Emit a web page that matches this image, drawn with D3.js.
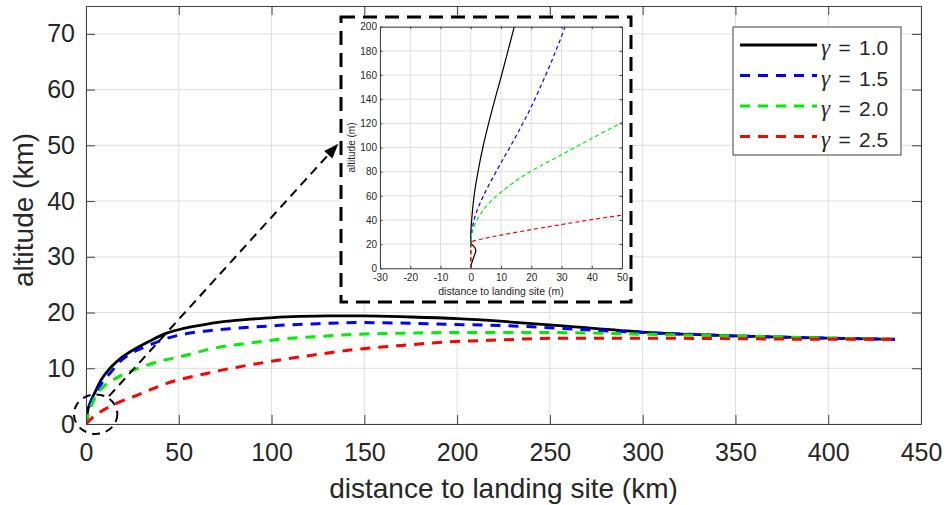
<!DOCTYPE html>
<html><head><meta charset="utf-8">
<script src="https://cdn.jsdelivr.net/npm/d3@7"></script>
<style>body{margin:0;background:#fff}svg{display:block}text{font-family:"Liberation Sans",Arial,sans-serif}</style>
</head><body><svg id="c" width="947" height="505"></svg>
<script>
// ---------- data ----------
const gammaLabels = ["1.0", "1.5", "2.0", "2.5"];
const seriesColors = ["#000000", "#0000ff", "#00ee00", "#ff0000"];
const seriesDash = [null, "10,8", "10,8", "10,8"];

// main chart (km)
const dist10 = [0, 0.8, 2.5, 5, 8, 12.9, 18, 25.5, 35, 43.5, 52, 61.4, 75, 88.4, 101, 115, 130, 149, 175, 200, 225, 257, 300, 350, 400, 436];
const alt10  = [0, 2.2, 4.0, 5.8, 7.8, 10.0, 11.6, 13.3, 15.0, 16.3, 17.1, 17.7, 18.4, 18.8, 19.1, 19.3, 19.4, 19.4, 19.2, 18.9, 18.4, 17.6, 16.5, 15.8, 15.4, 15.2];
const dist15 = [0, 0.8, 2.5, 5.7, 9, 12.9, 18.3, 25, 34.5, 43, 52.4, 65, 77.6, 90, 104.5, 125, 146, 170, 194, 230, 254, 275, 300, 325, 350, 400, 436];
const alt15  = [0, 1.9, 3.8, 5.8, 7.6, 9.1, 11.2, 12.8, 14.2, 15.3, 16.1, 16.7, 17.1, 17.4, 17.7, 18.0, 18.2, 18.1, 17.9, 17.6, 17.2, 16.8, 16.4, 16.1, 15.8, 15.4, 15.2];
const dist20 = [0, 1, 3.1, 6, 10, 14, 20, 29, 40, 52.4, 65, 77.6, 90, 104.5, 125, 146, 170, 194, 225, 254, 300, 350, 400, 436];
const alt20  = [0, 1.5, 3.5, 5.4, 6.9, 7.8, 8.9, 10.1, 11.3, 12.2, 13.3, 14.1, 14.6, 15.2, 15.7, 16.1, 16.3, 16.4, 16.4, 16.4, 16.1, 15.8, 15.4, 15.2];
const dist25 = [0, 3, 9.3, 17, 25.5, 35, 43.5, 52, 61.4, 75, 88.4, 104.5, 125, 146, 170, 194, 225, 254, 300, 350, 400, 436];
const alt25  = [0, 1.0, 2.5, 3.8, 4.9, 6.2, 7.3, 8.1, 8.8, 9.8, 10.6, 11.5, 12.5, 13.4, 14.1, 14.7, 15.1, 15.4, 15.4, 15.3, 15.2, 15.2];

// inset (m)
const insetX10 = [0, 0.3, 1.1, 1.65, 1.4, 0.3, 0, 0.3, 1.1, 2.4, 4.0, 5.9, 8.0, 10.2, 12.3, 14.4];
const insetY10 = [0, 4, 10, 14, 17, 20, 23, 40, 60, 80, 100, 120, 140, 160, 180, 200];
const insetX15 = [0, 0, 0.3, 1.1, 2.4, 4.2, 6.2, 8.4, 10.6, 12.9, 15.1, 17.2, 19.3, 21.2, 23.0, 24.8, 26.5, 28.1, 29.7, 31.2];
const insetY15 = [0, 20, 30, 40, 50, 60, 70, 80, 90, 100, 110, 120, 130, 140, 150, 160, 170, 180, 190, 200];
const insetX20 = [0, 0, 0.5, 1.5, 3, 5, 7.5, 10, 15, 20, 30, 40, 50];
const insetY20 = [0, 22, 30, 37, 44, 51, 57.5, 63, 72.5, 80.5, 94, 107.5, 120.8];
const insetX25 = [0, 0, 5, 10, 20, 30, 40, 50];
const insetY25 = [0, 22, 25, 27.5, 32, 36.2, 40.3, 44];

// ticks
const xTickValues = [0, 50, 100, 150, 200, 250, 300, 350, 400, 450];
const yTickValues = [0, 10, 20, 30, 40, 50, 60, 70];
const insetXTickValues = [-30, -20, -10, 0, 10, 20, 30, 40, 50];
const insetYTickValues = [0, 20, 40, 60, 80, 100, 120, 140, 160, 180, 200];

// annotation anchors (data units, km)
const zoomCircle = [5.2, 1.76, 11.7, 3.55]; // cx, cy, rx, ry
const arrowFrom = [12.4, 5.0];
const arrowTo = [136, 50.3];

// ---------- drawing ----------
const svg = d3.select("#c");
svg.append("rect").attr("width", 947).attr("height", 505).attr("fill", "#fff");
const AX = "#404040", GRID = "#dedede", TXT = "#262626";

const M = {l: 86, r: 921, t: 6, b: 424};
const x = d3.scaleLinear().domain([0, 450]).range([M.l, M.r]);
const y = d3.scaleLinear().domain([0, 75]).range([M.b, M.t]);

// grid
const grid = svg.append("g");
grid.selectAll("line.gx").data(xTickValues).join("line").attr("class", "gx")
  .attr("x1", d => x(d)).attr("x2", d => x(d)).attr("y1", M.t).attr("y2", M.b)
  .attr("stroke", GRID).attr("stroke-width", 1);
grid.selectAll("line.gy").data(yTickValues).join("line").attr("class", "gy")
  .attr("x1", M.l).attr("x2", M.r).attr("y1", d => y(d)).attr("y2", d => y(d))
  .attr("stroke", GRID).attr("stroke-width", 1);

// curves
svg.append("clipPath").attr("id", "mainclip").append("rect")
  .attr("x", M.l).attr("y", M.t).attr("width", M.r - M.l).attr("height", M.b - M.t);
const mainSeries = [[dist10, alt10], [dist15, alt15], [dist20, alt20], [dist25, alt25]];
const lineMain = d3.line().x(d => x(d[0])).y(d => y(d[1])).curve(d3.curveMonotoneX);
const curves = svg.append("g").attr("clip-path", "url(#mainclip)");
mainSeries.forEach((s, i) => {
  const pts = s[0].map((d, k) => [d, s[1][k]]);
  curves.append("path").attr("d", lineMain(pts)).attr("fill", "none")
    .attr("stroke", seriesColors[i]).attr("stroke-width", i === 0 ? 2.8 : 3)
    .attr("stroke-dasharray", seriesDash[i]);
});

// axes
function styleAxis(g, fs) {
  g.select(".domain").attr("stroke", AX).attr("stroke-width", 1);
  g.selectAll(".tick line").attr("stroke", AX).attr("stroke-width", 1);
  g.selectAll(".tick text").attr("fill", TXT).attr("font-size", fs)
    .attr("font-family", '"Liberation Sans",Arial,sans-serif');
}
const TS = 9;
svg.append("g").attr("transform", `translate(0,${M.b})`)
  .call(d3.axisBottom(x).tickValues(xTickValues).tickFormat(d => String(d)).tickSizeInner(-TS).tickSizeOuter(0).tickPadding(19))
  .call(g => styleAxis(g, 25));
svg.append("g").attr("transform", `translate(${M.l},0)`)
  .call(d3.axisLeft(y).tickValues(yTickValues).tickFormat(d => String(d)).tickSizeInner(-TS).tickSizeOuter(0).tickPadding(11))
  .call(g => styleAxis(g, 25));
svg.append("g").attr("transform", `translate(0,${M.t})`)
  .call(d3.axisTop(x).tickValues(xTickValues).tickFormat("").tickSizeInner(-TS).tickSizeOuter(0))
  .call(g => styleAxis(g, 25));
svg.append("g").attr("transform", `translate(${M.r},0)`)
  .call(d3.axisRight(y).tickValues(yTickValues).tickFormat("").tickSizeInner(-TS).tickSizeOuter(0))
  .call(g => styleAxis(g, 25));

// axis labels
svg.append("text").attr("x", (M.l + M.r) / 2).attr("y", 498).attr("text-anchor", "middle")
  .attr("font-size", 28).attr("fill", TXT).text("distance to landing site (km)");
svg.append("text").attr("transform", "translate(33,210) rotate(-90)").attr("text-anchor", "middle")
  .attr("font-size", 28).attr("fill", TXT).text("altitude (km)");

// annotation: dashed circle and arrow
svg.append("ellipse")
  .attr("cx", x(zoomCircle[0])).attr("cy", y(zoomCircle[1]))
  .attr("rx", x(zoomCircle[2]) - x(0)).attr("ry", y(0) - y(zoomCircle[3]))
  .attr("fill", "none").attr("stroke", "#000").attr("stroke-width", 2).attr("stroke-dasharray", "8,6");
{
  const x0 = x(arrowFrom[0]), y0 = y(arrowFrom[1]), x1 = x(arrowTo[0]), y1 = y(arrowTo[1]);
  const ang = Math.atan2(y1 - y0, x1 - x0), L = 15, W = 5.5;
  const bx = x1 - L * Math.cos(ang), by = y1 - L * Math.sin(ang);
  svg.append("line").attr("x1", x0).attr("y1", y0).attr("x2", bx).attr("y2", by)
    .attr("stroke", "#000").attr("stroke-width", 2).attr("stroke-dasharray", "9,6");
  const px = -Math.sin(ang), py = Math.cos(ang);
  svg.append("path").attr("d", `M${x1},${y1}L${bx + W * px},${by + W * py}L${bx - W * px},${by - W * py}Z`)
    .attr("fill", "#000");
}

// ---------- inset ----------
svg.append("rect").attr("x", 341).attr("y", 17).attr("width", 290).attr("height", 285)
  .attr("fill", "#fff").attr("stroke", "#000").attr("stroke-width", 3).attr("stroke-dasharray", "14,8");
const I = {l: 380, r: 622, t: 26.7, b: 268.3};
const ix = d3.scaleLinear().domain([-30, 50]).range([I.l, I.r]);
const iy = d3.scaleLinear().domain([0, 200]).range([I.b, I.t]);
const ig = svg.append("g");
ig.selectAll("line.gx").data(insetXTickValues).join("line").attr("class", "gx")
  .attr("x1", d => ix(d)).attr("x2", d => ix(d)).attr("y1", I.t).attr("y2", I.b).attr("stroke", GRID);
ig.selectAll("line.gy").data(insetYTickValues).join("line").attr("class", "gy")
  .attr("x1", I.l).attr("x2", I.r).attr("y1", d => iy(d)).attr("y2", d => iy(d)).attr("stroke", GRID);
svg.append("clipPath").attr("id", "insetclip").append("rect")
  .attr("x", I.l).attr("y", I.t).attr("width", I.r - I.l).attr("height", I.b - I.t);
const insetSeries = [[insetX10, insetY10], [insetX15, insetY15], [insetX20, insetY20], [insetX25, insetY25]];
const lineInsetCurve = d3.line().x(d => ix(d[0])).y(d => iy(d[1])).curve(d3.curveCatmullRom.alpha(0.5));
const lineInsetStraight = d3.line().x(d => ix(d[0])).y(d => iy(d[1]));
const ic = svg.append("g").attr("clip-path", "url(#insetclip)");
insetSeries.forEach((s, i) => {
  const pts = s[0].map((d, k) => [d, s[1][k]]);
  // black trajectory is one smooth curve; the others rise vertically at x = 0 before departing
  const dStr = i === 0 ? lineInsetCurve(pts)
    : lineInsetStraight(pts.slice(0, 2)) + lineInsetCurve(pts.slice(1)).replace(/^M[^C]*/, "");
  ic.append("path").attr("d", dStr).attr("fill", "none")
    .attr("stroke", seriesColors[i]).attr("stroke-width", 1.2)
    .attr("stroke-dasharray", i === 0 ? null : "4,3");
});
const its = 2.5;
svg.append("g").attr("transform", `translate(0,${I.b})`)
  .call(d3.axisBottom(ix).tickValues(insetXTickValues).tickFormat(d => String(d)).tickSizeInner(-its).tickSizeOuter(0).tickPadding(6))
  .call(g => styleAxis(g, 10));
svg.append("g").attr("transform", `translate(${I.l},0)`)
  .call(d3.axisLeft(iy).tickValues(insetYTickValues).tickFormat(d => String(d)).tickSizeInner(-its).tickSizeOuter(0).tickPadding(3))
  .call(g => styleAxis(g, 10));
svg.append("g").attr("transform", `translate(0,${I.t})`)
  .call(d3.axisTop(ix).tickValues(insetXTickValues).tickFormat("").tickSizeInner(-its).tickSizeOuter(0))
  .call(g => styleAxis(g, 10));
svg.append("g").attr("transform", `translate(${I.r},0)`)
  .call(d3.axisRight(iy).tickValues(insetYTickValues).tickFormat("").tickSizeInner(-its).tickSizeOuter(0))
  .call(g => styleAxis(g, 10));
svg.append("text").attr("x", (I.l + I.r) / 2).attr("y", 295).attr("text-anchor", "middle")
  .attr("font-size", 10.5).attr("fill", TXT).text("distance to landing site (m)");
svg.append("text").attr("transform", `translate(355,${(I.t + I.b) / 2}) rotate(-90)`).attr("text-anchor", "middle")
  .attr("font-size", 10).attr("fill", TXT).text("altitude (m)");

// ---------- legend ----------
const lg = svg.append("g");
lg.append("rect").attr("x", 733).attr("y", 27).attr("width", 168).attr("height", 128)
  .attr("fill", "#fff").attr("stroke", AX).attr("stroke-width", 1);
const rowY = d3.scalePoint().domain(gammaLabels).range([45, 136.5]);
gammaLabels.forEach((lab, i) => {
  const ry = rowY(lab);
  lg.append("line").attr("x1", 740).attr("x2", 817).attr("y1", ry).attr("y2", ry)
    .attr("stroke", seriesColors[i]).attr("stroke-width", i === 0 ? 2.8 : 3)
    .attr("stroke-dasharray", seriesDash[i]);
  const t = lg.append("text").attr("x", 821).attr("y", ry + 10).attr("font-size", 21)
    .attr("fill", TXT).attr("word-spacing", 2.5).attr("xml:space", "preserve");
  t.append("tspan").attr("font-family", '"Liberation Serif","Times New Roman",serif')
    .attr("font-style", "italic").attr("font-size", 23).text("γ");
  t.append("tspan").text(" = " + lab);
});
</script></body></html>
